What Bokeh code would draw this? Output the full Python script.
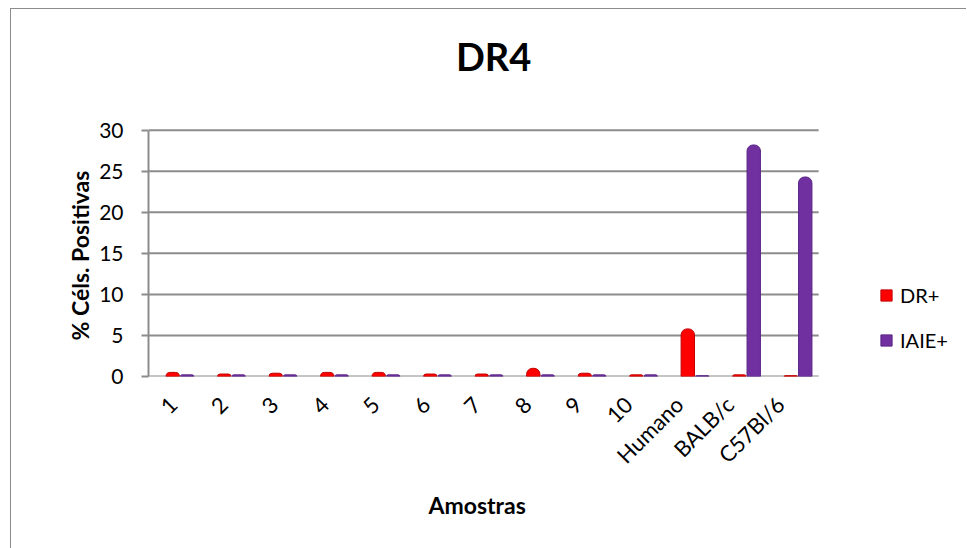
import math
from bokeh.plotting import figure
from bokeh.models import (Range1d, FixedTicker, Legend, LegendItem,
                          ColumnDataSource, Title, Label)
from bokeh.embed import file_html
from bokeh.resources import INLINE

# ---- data ----
categories = ["1", "2", "3", "4", "5", "6", "7", "8", "9", "10",
              "Humano", "BALB/c", "C57Bl/6"]
dr_pos = [0.5, 0.3, 0.4, 0.5, 0.5, 0.3, 0.3, 1.0, 0.4, 0.2, 5.8, 0.2, 0.1]
iaie_pos = [0.2, 0.2, 0.2, 0.2, 0.2, 0.2, 0.2, 0.2, 0.2, 0.2, 0.1, 28.2, 24.3]
y_ticks = [0, 5, 10, 15, 20, 25, 30]

FONT = "Lato"
GRID = "#8c8c8c"
RED = "#ff0000"
PURPLE = "#7030a0"

idx = list(range(len(categories)))
X_START, X_END = -0.61, 12.4          # extent of the category area
src = ColumnDataSource(dict(
    x_dr=[i - 0.14 for i in idx],
    x_ia=[i + 0.14 for i in idx],
    dr=dr_pos, ia=iaie_pos))
grid_src = ColumnDataSource(dict(
    x0=[X_START] * len(y_ticks), x1=[X_END] * len(y_ticks),
    y=y_ticks))
# category label anchors (slight perspective shift as in the 3-D original)
label_pos = [round(i * 0.9825 - 0.136, 4) for i in idx]

# frame spans the upper/right part of the canvas so the title and legend
# can sit inside it; the axis itself is bounded to 0..30
p = figure(width=956, height=540, output_backend="svg", toolbar_location=None,
           x_range=Range1d(X_START, 15.29), y_range=Range1d(0, 44.7),
           min_border_left=137, min_border_right=0,
           min_border_top=0, min_border_bottom=173,
           background_fill_color="white", border_fill_color="white")
p.styles = {"margin-left": "10px", "margin-top": "8px",
            "border-left": "1.5px solid #8c8c8c",
            "border-top": "1.5px solid #8c8c8c"}
p.outline_line_color = None
p.xgrid.visible = False
p.ygrid.visible = False

# horizontal gridlines over the category area only
p.segment(x0="x0", x1="x1", y0="y", y1="y", source=grid_src,
          line_color=GRID, line_width=2)

# title
p.add_layout(Label(x=6.09, y=39.0, text="DR4", text_font=FONT,
                   text_font_size="38px", text_font_style="bold",
                   text_color="#000000", text_align="center",
                   text_baseline="middle"))

r_dr = p.vbar(x="x_dr", top="dr", bottom=0, width=0.26, source=src,
              fill_color=RED, line_color="#c00000", line_width=1,
              border_radius=[6, 6, 0, 0])
r_ia = p.vbar(x="x_ia", top="ia", bottom=0, width=0.26, source=src,
              fill_color=PURPLE, line_color="#5a2585", line_width=1,
              border_radius=[6, 6, 0, 0])

# y axis
p.yaxis.ticker = FixedTicker(ticks=y_ticks)
p.yaxis.bounds = (0, 30)
p.yaxis.axis_line_color = GRID
p.yaxis.axis_line_width = 2
p.yaxis.major_tick_line_color = GRID
p.yaxis.major_tick_line_width = 2
p.yaxis.major_tick_out = 7
p.yaxis.major_tick_in = 0
p.yaxis.minor_tick_line_color = None
p.yaxis.major_label_text_font = FONT
p.yaxis.major_label_text_font_size = "21px"
p.yaxis.major_label_text_color = "#000000"
p.yaxis.major_label_standoff = 18

# y-axis title, centred on the 0..30 span
p.add_layout(Title(text="% Céls. Positivas", align="left", offset=36,
                   standoff=6, text_font=FONT, text_font_size="23px",
                   text_font_style="bold", text_color="#000000"), "left")

# x axis
p.xaxis.ticker = FixedTicker(ticks=label_pos)
p.xaxis.major_label_overrides = {t: c for t, c in zip(label_pos, categories)}
p.xaxis.major_label_orientation = math.pi / 4
p.xaxis.axis_line_color = None
p.xaxis.major_tick_line_color = None
p.xaxis.minor_tick_line_color = None
p.xaxis.major_label_text_font = FONT
p.xaxis.major_label_text_font_size = "22px"
p.xaxis.major_label_text_color = "#000000"
p.xaxis.major_label_standoff = 18

# x-axis title, placed under the category area
p.add_layout(Title(text="Amostras", align="left", offset=280, standoff=14,
                   text_font=FONT, text_font_size="23px",
                   text_font_style="bold", text_color="#000000"), "below")

legend = Legend(items=[LegendItem(label="DR+", renderers=[r_dr]),
                       LegendItem(label="IAIE+", renderers=[r_ia])],
                location=(731, 24), orientation="vertical", margin=0,
                label_text_font=FONT, label_text_font_size="20px",
                label_text_color="#000000",
                glyph_width=14, glyph_height=14, spacing=21, padding=0,
                label_standoff=7, border_line_color=None,
                background_fill_alpha=0)
p.add_layout(legend, "center")

open("out.html", "w").write(file_html(p, INLINE))
